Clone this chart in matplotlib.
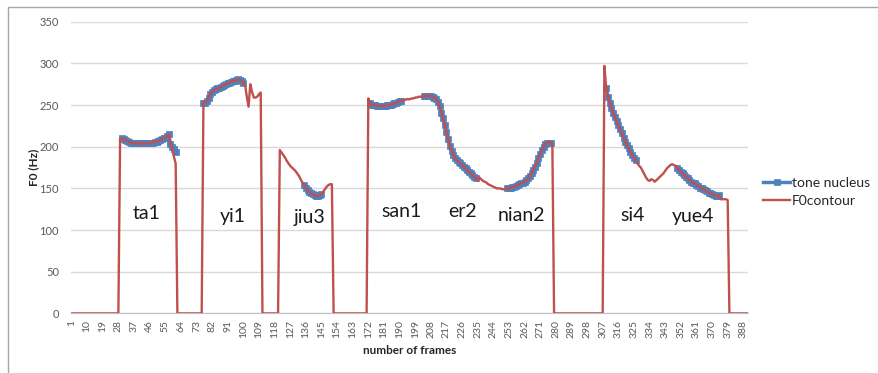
import numpy as np
import matplotlib
matplotlib.use("Agg")
import matplotlib.pyplot as plt
from matplotlib.patches import Rectangle

# ---------------- data ----------------
n_frames = 391

# voiced F0 segments (Hz), each list starts at the given frame
ta1_start = 29
ta1_f0 = [210, 210, 209, 208, 207, 206, 205, 205, 204, 204,
          204, 204, 204, 204, 204, 204, 204, 204, 205, 205,
          206, 206, 207, 208, 209, 210, 211, 213, 215, 205,
          197, 188, 180]

yi1_start = 77
yi1_f0 = [253, 253, 255, 259, 263, 266, 268, 269, 270, 271,
          272, 273, 274, 275, 276, 277, 278, 279, 279, 280,
          281, 280, 279, 277, 274, 260, 248, 275, 266, 259,
          259, 260, 263, 265]

jiu3_start = 121
jiu3_f0 = [196, 193, 190, 187, 183, 180, 177, 175, 173, 171,
           168, 165, 161, 157, 154, 151, 148, 146, 144, 143,
           142, 141, 141, 142, 143, 146, 149, 152, 154, 155,
           155]

san_er_nian_start = 172
san_er_nian_f0 = [258, 252, 250, 250, 250, 249, 249, 249, 249, 249,
                  249, 250, 250, 250, 251, 252, 253, 254, 255, 255,
                  256, 256, 257, 257, 257, 258, 258, 259, 259, 260,
                  260, 260, 261, 261, 261, 261, 261, 260, 259, 257,
                  254, 249, 241, 234, 226, 218, 209, 201, 195, 190,
                  186, 184, 182, 180, 178, 176, 174, 172, 170, 168,
                  166, 164, 162, 159, 163, 161, 159, 158, 157, 155,
                  154, 153, 152, 151, 150, 150, 150, 149, 149, 149,
                  150, 150, 151, 152, 152, 153, 154, 155, 156, 157,
                  158, 160, 162, 165, 168, 172, 176, 181, 186, 191,
                  196, 200, 203, 205, 205, 205, 203]

si_yue_start = 308
si_yue_f0 = [297, 270, 260, 253, 247, 241, 236, 231, 226, 221,
             216, 211, 206, 202, 198, 194, 190, 187, 184, 180,
             177, 175, 171, 167, 163, 160, 159, 161, 160, 158,
             160, 162, 164, 166, 168, 171, 174, 176, 178, 179,
             178, 177, 175, 172, 170, 168, 166, 164, 162, 160,
             158, 157, 156, 154, 153, 151, 150, 149, 148, 147,
             145, 144, 143, 142, 141, 141, 142, 137, 137, 137,
             137, 136]

# tone nucleus frame ranges (inclusive)
nucleus_ranges = [(30, 61), (77, 100), (135, 145), (173, 191),
                  (204, 234), (252, 277), (309, 326), (350, 374)]
ta1_nucleus_tail = [203, 200, 197, 194]   # frames 58-61

syllables = ["ta1", "yi1", "jiu3", "san1", "er2", "nian2", "si4", "yue4"]
syllable_frame = [44, 94, 138, 191, 226, 260, 324, 359]
syllable_hz = [120, 116, 115, 122, 122, 118, 118, 116]

y_ticks = [0, 50, 100, 150, 200, 250, 300, 350]
x_tick_step = 9

# ---------------- build series ----------------
frames = np.arange(1, n_frames + 1)
f0 = np.zeros(n_frames)
for start, vals in [(ta1_start, ta1_f0), (yi1_start, yi1_f0),
                    (jiu3_start, jiu3_f0),
                    (san_er_nian_start, san_er_nian_f0),
                    (si_yue_start, si_yue_f0)]:
    f0[start - 1:start - 1 + len(vals)] = vals

nucleus = np.full(n_frames, np.nan)
for a, b in nucleus_ranges:
    nucleus[a - 1:b] = f0[a - 1:b]
nucleus[57:61] = ta1_nucleus_tail

# ---------------- figure ----------------
plt.rcParams['font.family'] = ['Lato', 'DejaVu Sans']
W, H = 879, 373
fig = plt.figure(figsize=(W / 100, H / 100), dpi=100)
ax_left, ax_right, ax_top, ax_bot = 71.5, 748.5, 21.7, 313.4
ax = fig.add_axes([ax_left / W, 1 - ax_bot / H,
                   (ax_right - ax_left) / W, (ax_bot - ax_top) / H])

blue = '#4F81BD'
red = '#C0504D'

ax.plot(frames, nucleus, color=blue, lw=2.5, marker='s', ms=5,
        mec=blue, mew=0.5, mfc=blue, zorder=2, label='tone nucleus')
ax.plot(frames, f0, color=red, lw=1.7, zorder=3, label='F0contour')

for s, fx, hz in zip(syllables, syllable_frame, syllable_hz):
    ax.text(fx, hz, s, fontsize=14, ha='center', va='center', color='#1a1a1a')

ax.set_xlim(1, n_frames)
ax.set_ylim(0, 350)
ax.set_yticks(y_ticks)
ax.set_xticks(frames[::x_tick_step])
ax.set_xticklabels([str(v) for v in frames[::x_tick_step]], rotation=90)
ax.tick_params(axis='y', length=0, pad=9, labelsize=8, labelcolor='#595959')
ax.tick_params(axis='x', length=0, pad=5, labelsize=7.5, labelcolor='#595959')
ax.yaxis.grid(True, color='#d9d9d9', lw=1)
ax.set_axisbelow(True)
for sp in ['top', 'right', 'left']:
    ax.spines[sp].set_visible(False)
ax.spines['bottom'].set_color('#bfbfbf')

ax.set_xlabel('number of frames', fontsize=8.5, fontweight='bold', color='#262626')
ax.xaxis.set_label_coords(0.5, -(345 - ax_bot) / (ax_bot - ax_top))
ax.set_ylabel('F0 (Hz)', fontsize=8.5, fontweight='bold', color='#262626')
ax.yaxis.set_label_coords(-(ax_left - 39) / (ax_right - ax_left), 0.5)

ax.legend(loc='center left', bbox_to_anchor=(763 / W, 1 - 192 / H),
          bbox_transform=fig.transFigure, frameon=False, fontsize=10,
          handlelength=1.95, handletextpad=0.15, labelspacing=0.4,
          borderpad=0, borderaxespad=0, labelcolor='#262626')

fig.patches.append(Rectangle((8.3 / W, -0.1), 2, 1 - 7.3 / H + 0.1,
                             transform=fig.transFigure, fill=False,
                             ec='#a6a6a6', lw=1))

fig.savefig('out.png', dpi=100)
